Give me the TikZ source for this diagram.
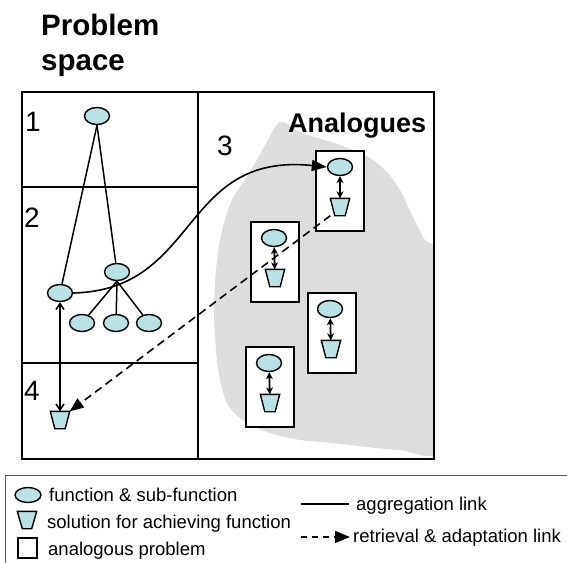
\documentclass[tikz,border=0pt]{standalone}
\usepackage{fontspec}
\setmainfont{Liberation Sans}
\usetikzlibrary{shapes.geometric,arrows.meta}
\definecolor{nodefill}{HTML}{BCE1E4}
\definecolor{blobgray}{HTML}{DDDDDD}
\definecolor{legendline}{HTML}{606060}
\newcommand\solnode[4][]{%
  \node[solbox,#1] (#2) at (#3) {};
  \draw[solshape] (#2.north west) -- (#2.north east) -- ([xshift=-#4]#2.south east) -- ([xshift=#4]#2.south west) -- cycle;}
\begin{document}
\begin{tikzpicture}[x=1pt,y=-1pt,
  fn/.style={ellipse,draw,fill=nodefill,line width=1.4pt,minimum width=25pt,minimum height=17pt,inner sep=0pt},
  solbox/.style={rectangle,inner sep=0pt,minimum width=19pt,minimum height=17pt},
  solshape/.style={draw,fill=nodefill,line width=1.4pt,line join=miter},
  anbox/.style={rectangle,draw,fill=white,line width=2pt,minimum width=48pt,minimum height=80pt,inner sep=0pt},
  agg/.style={line width=1.5pt},
  frameline/.style={line width=2pt},
  innerarrow/.style={line width=1.8pt,{Stealth[length=7pt,width=7pt]}-{Stealth[length=7pt,width=7pt]}},
  vertarrow/.style={line width=1.5pt,{Straight Barb[length=6pt,width=8pt]}-{Straight Barb[length=6pt,width=8pt]}},
  retr/.style={line width=1.6pt,dash pattern=on 8pt off 5pt,-{Triangle[length=14pt,width=11pt]}},
  curvearrow/.style={line width=1.6pt,-{Triangle[length=15pt,width=11pt]}},
  titletext/.style={font=\bfseries\fontsize{29.5}{35}\selectfont,inner sep=0pt},
  digit/.style={font=\fontsize{28}{32}\selectfont,inner sep=0pt},
  legtext/.style={font=\fontsize{18.5}{21}\selectfont,inner sep=0pt,anchor=base west}
]
\useasboundingbox (0,0) rectangle (567,562);
\clip (0,0) rectangle (567,562);

% gray blob
\begin{scope}
\clip (22,92) rectangle (434,459);
\fill[blobgray] plot[smooth cycle,tension=0.5] coordinates {
 (280,122) (300,132) (318,138) (340,145) (365,155) (385,170) (400,190)
 (412,215) (425,240) (440,255) (440,350) (440,450) (400,450) (367,447)
 (333,443) (300,440) (270,433) (245,422) (228,405) (220,380) (216,350)
 (214,310) (216,270) (221,235) (232,200) (250,172) (265,145)};
\end{scope}

% frame
\draw[frameline] (22,92) rectangle (434,459);
\draw[frameline] (198,92) -- (198,459);
\draw[frameline] (22,187) -- (198,187);
\draw[frameline] (22,363) -- (198,363);

% titles and numbers
\node[titletext,anchor=base west] (t1) at (41,35) {Problem};
\node[titletext,anchor=base west] (t2) at (41,70) {space};
\node[digit,anchor=base west] (n1) at (25,131) {1};
\node[digit,anchor=base west] (n2) at (24,227) {2};
\node[digit,anchor=base west] (n3) at (217,155) {3};
\node[digit,anchor=base west] (n4) at (24,400) {4};
\node[titletext,font=\bfseries\fontsize{27}{32}\selectfont,anchor=base west] (an) at (288,132) {Analogues};

% problem space nodes
\node[fn] (f1) at (97,116) {};
\node[fn] (fL) at (60,293) {};
\node[fn] (fM) at (117,272) {};
\node[fn] (c1) at (82,323) {};
\node[fn] (c2) at (116,323) {};
\node[fn] (c3) at (149,323) {};
\solnode{s4}{60,420}{4.5pt}

% analogue boxes
\node[anbox] (bA) at (340,191) {};
\node[fn] (aE) at (340,167) {};
\solnode{aT}{340,207}{4.5pt}
\node[anbox] (bB) at (275,262) {};
\node[fn] (bE) at (274,238) {};
\solnode{bT}{275,278}{4.5pt}
\node[anbox] (bC) at (332,333) {};
\node[fn] (cE) at (330,309) {};
\solnode{cT}{331,349}{4.5pt}
\node[anbox] (bD) at (270,387) {};
\node[fn] (dE) at (269,363) {};
\solnode{dT}{270,403}{4.5pt}

% connectors
\draw[agg] (f1.south) -- (fL);
\draw[agg] (f1.south) -- (fM);
\draw[agg] (fM.south) -- (c1);
\draw[agg] (fM.south) -- (c2);
\draw[agg] (fM.south) -- (c3);
\draw[vertarrow] (fL) -- (s4);
\draw[innerarrow] (aE) -- (aT);
\draw[innerarrow] (bE) -- (bT);
\draw[innerarrow] (cE) -- (cT);
\draw[innerarrow] (dE) -- (dT);
\draw[curvearrow] (fL.east) .. controls (200,290) and (180,152) .. (aE.west);
\draw[retr] (aT.south west) -- (s4.north east);

% legend
\draw[legendline,line width=1pt] (5,475) rectangle (600,600);
\node[fn,minimum width=26pt,minimum height=15pt] (lfn) at (28,495) {};
\solnode[minimum height=17pt]{lsol}{27,520}{5pt}
\node[rectangle,draw,line width=1.4pt,minimum width=19pt,minimum height=20pt,inner sep=0pt] (lbox) at (27.5,548) {};
\node[legtext] (lt1) at (49,501) {function \& sub-function};
\node[legtext] (lt2) at (47,528) {solution for achieving function};
\node[legtext] (lt3) at (48,555) {analogous problem};
\coordinate (la1) at (301,504);
\coordinate (la2) at (349,504);
\coordinate (lr1) at (301,537);
\coordinate (lr2) at (350,537);
\draw[agg] (la1) -- (la2);
\draw[line width=1.5pt,dash pattern=on 6pt off 5pt,-{Triangle[length=15pt,width=12pt]}] (lr1) -- (lr2);
\node[legtext] (lt4) at (356,510) {aggregation link};
\node[legtext] (lt5) at (353,542) {retrieval \& adaptation link};
\end{tikzpicture}
\end{document}
